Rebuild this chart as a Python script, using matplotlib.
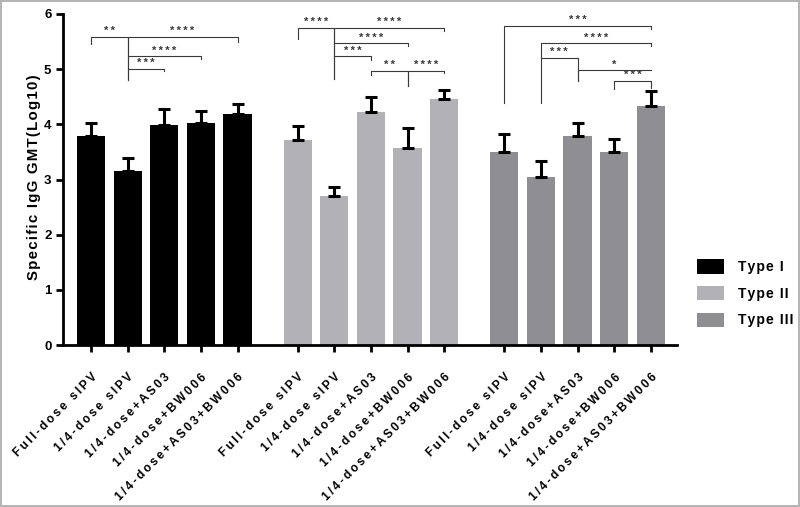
import numpy as np
import matplotlib
matplotlib.use("Agg")
from matplotlib import pyplot as plt
from matplotlib.patches import Patch

plt.rcParams['font.family'] = ['Liberation Sans', 'DejaVu Sans']
plt.rcParams['font.weight'] = 'bold'

groups = ['Full-dose sIPV', '1/4-dose sIPV', '1/4-dose+AS03', '1/4-dose+BW006', '1/4-dose+AS03+BW006']
types = ['Type I', 'Type II', 'Type III']
colors = ['#000000', '#b2b2b6', '#8f8f93']

# mean and upper error (log10 GMT)
type1 = [3.79, 3.15, 3.99, 4.03, 4.19]
type1_err = [0.24, 0.24, 0.28, 0.21, 0.17]
type2 = [3.71, 2.71, 4.22, 3.58, 4.46]
type2_err = [0.26, 0.16, 0.28, 0.35, 0.17]
type3 = [3.49, 3.05, 3.79, 3.49, 4.34]
type3_err = [0.34, 0.29, 0.23, 0.25, 0.26]

# brackets: group, bar a, bar b, height, stars, left drop end, right drop end
brackets = [
    (0, 0, 1, 5.59, '**', 5.46, 4.81),
    (0, 1, 4, 5.59, '****', 4.81, 5.50),
    (0, 1, 3, 5.23, '****', 5.23, 5.19),
    (0, 1, 2, 5.01, '***', 5.01, 4.97),
    (1, 0, 1, 5.75, '****', 5.55, 4.83),
    (1, 1, 4, 5.75, '****', 4.83, 5.69),
    (1, 1, 3, 5.47, '****', 5.47, 5.42),
    (1, 1, 2, 5.23, '***', 5.23, 5.16),
    (1, 2, 3, 4.97, '**', 4.90, 4.70),
    (1, 3, 4, 4.97, '****', 4.70, 4.93),
    (2, 0, 4, 5.78, '***', 4.39, 5.72),
    (2, 1, 4, 5.47, '****', 4.39, 5.42),
    (2, 1, 2, 5.20, '***', 5.20, 4.78),
    (2, 2, 4, 4.98, '*', 4.78, 4.98),
    (2, 3, 4, 4.79, '***', 4.64, 4.66),
]

def spaced(s, sp='\u2009'):
    return sp.join(s)

step = 5.64
fig = plt.figure(figsize=(8, 5.07), dpi=100)
ax = fig.add_axes([0.079, 0.3195, 0.767, 0.6529])

vals = [type1, type2, type3]
errs = [type1_err, type2_err, type3_err]
xpos = []
for g in range(3):
    x = np.arange(5) + g * step
    xpos.extend(x)
    ax.bar(x, vals[g], width=0.77, color=colors[g], zorder=2)
    ax.errorbar(x, vals[g], yerr=[np.zeros(5), errs[g]], fmt='none', ecolor='black',
                elinewidth=2.2, capsize=4.5, capthick=2.2, zorder=3)

for g, a, b, h, lab, lb, rb in brackets:
    xa = a + g * step
    xb = b + g * step
    ax.plot([xa, xa, xb, xb], [lb, h, h, rb], color='#3a3a3a', lw=0.8, zorder=4)
    ax.annotate(spaced(lab), ((xa + xb) / 2, h), xytext=(0, 0.5), textcoords='offset points',
                ha='center', va='bottom', fontsize=8, color='#3a3a3a')

ax.set_xlim(-0.76, 4 + 2 * step + 0.71)
ax.set_ylim(0, 6)
ax.set_yticks([0, 1, 2, 3, 4, 5, 6])
ax.set_xticks(xpos)
ax.set_xticklabels([spaced(s) for s in groups] * 3, rotation=45, ha='right',
                   rotation_mode='anchor', fontsize=8.6, fontweight='bold')
ax.tick_params(axis='x', length=5, width=2, pad=14)
ax.tick_params(axis='y', length=5, width=2, labelsize=9.5)
for lab in ax.get_yticklabels():
    lab.set_fontweight('bold')
for s in ['top', 'right']:
    ax.spines[s].set_visible(False)
for s in ['left', 'bottom']:
    ax.spines[s].set_linewidth(2)
ax.set_ylabel(spaced('Specific IgG GMT(Log10)', '\u200a'), fontsize=10.8, fontweight='bold')
ax.yaxis.set_label_coords(-0.036, 0.506)

handles = [Patch(facecolor=c, label=spaced(t, '\u200a')) for c, t in zip(colors, types)]
fig.legend(handles=handles, loc='upper left', bbox_to_anchor=(0.855, 0.513), frameon=False,
           fontsize=10, handlelength=2.0, handleheight=1.2, labelspacing=0.85, handletextpad=1.0)

fig.patch.set_edgecolor('#b5b5b5')
fig.patch.set_linewidth(1.5)
fig.savefig('out.png', dpi=100)
